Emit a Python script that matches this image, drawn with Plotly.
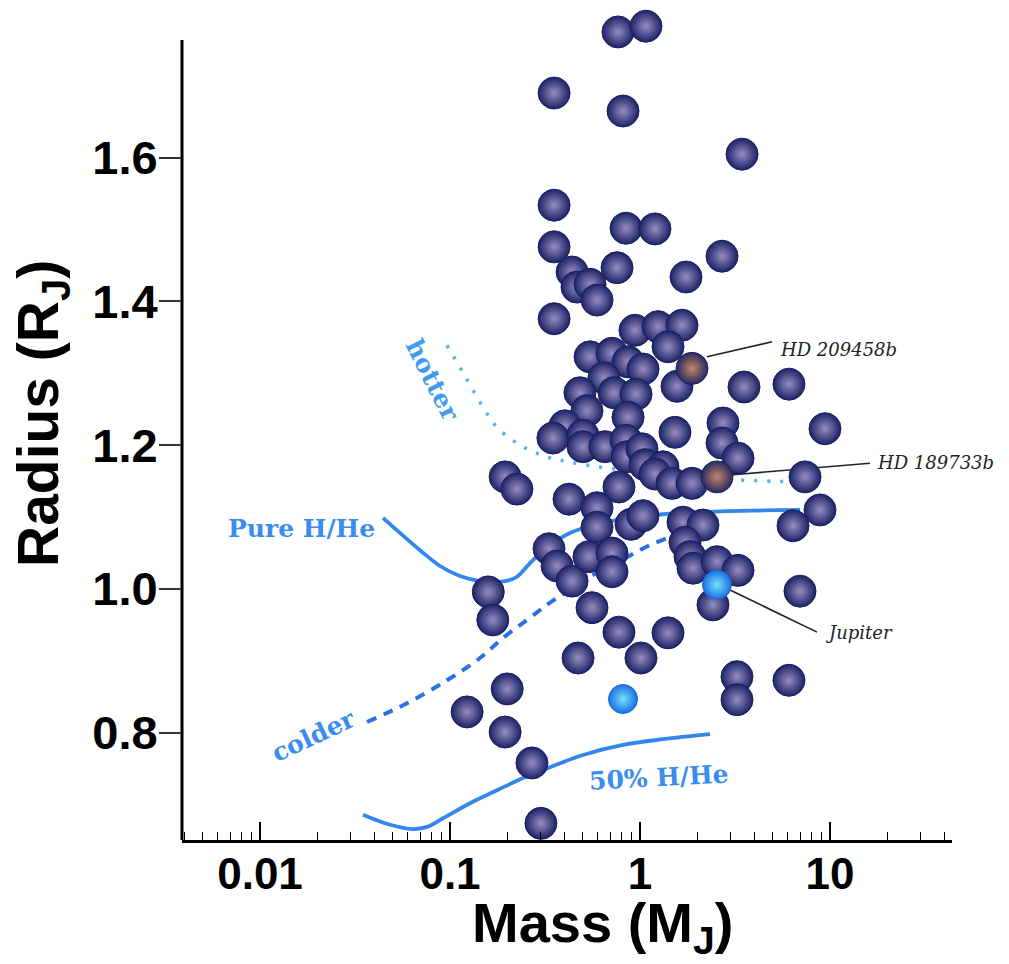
import plotly.graph_objects as go

# ---------------- data ----------------
planet_mass = [0.766, 1.075, 0.353, 0.814, 3.443, 0.353, 0.844, 1.199, 0.353, 2.702,
               1.747, 0.757, 0.439, 0.466, 0.546, 0.594, 0.353, 0.941, 1.244, 1.664,
               1.404, 1.565, 0.546, 0.712, 0.865, 1.037, 0.646, 0.483, 0.730, 0.953,
               3.527, 6.083, 0.526, 0.865, 1.528, 2.734, 9.412, 0.403, 0.348, 0.501,
               0.501, 0.654, 0.844, 0.854, 2.702, 3.280, 1.024, 1.062, 1.321, 1.199,
               1.474, 1.878, 7.387, 0.195, 0.225, 0.775, 0.423, 0.594, 0.594, 0.897,
               1.037, 1.684, 2.145, 8.859, 6.387, 1.725, 1.833, 1.901, 2.543, 3.280,
               2.422, 0.332, 0.366, 0.439, 0.539, 0.712, 0.712, 0.159, 0.168, 0.559,
               0.775, 1.404, 0.472, 1.012, 0.200, 0.123, 0.195, 0.270, 0.301, 3.240,
               3.240, 6.083, 6.952]
planet_radius = [1.775, 1.783, 1.690, 1.665, 1.605, 1.534, 1.502, 1.501, 1.476, 1.463,
                 1.434, 1.447, 1.441, 1.420, 1.424, 1.402, 1.376, 1.360, 1.365, 1.367,
                 1.337, 1.282, 1.323, 1.328, 1.316, 1.306, 1.294, 1.273, 1.273, 1.271,
                 1.281, 1.285, 1.248, 1.239, 1.218, 1.231, 1.223, 1.227, 1.210, 1.214,
                 1.198, 1.198, 1.207, 1.184, 1.203, 1.182, 1.195, 1.173, 1.170, 1.160,
                 1.147, 1.147, 1.156, 1.156, 1.139, 1.142, 1.125, 1.113, 1.086, 1.090,
                 1.102, 1.093, 1.089, 1.110, 1.088, 1.065, 1.045, 1.029, 1.038, 1.026,
                 0.978, 1.056, 1.032, 1.011, 1.045, 1.050, 1.024, 0.996, 0.957, 0.974,
                 0.940, 0.939, 0.904, 0.904, 0.861, 0.829, 0.801, 0.758, 0.674, 0.878,
                 0.846, 0.873, 0.997]

hd_names = ["HD 209458b", "HD 189733b"]
hd_mass = [1.878, 2.543]
hd_radius = [1.307, 1.156]

solar_mass = [2.543, 0.814]
solar_radius = [1.006, 0.847]

pure_mass = [0.04439, 0.05455, 0.06953, 0.08859, 0.1129, 0.1438, 0.1948, 0.2252, 0.2637,
             0.3240, 0.4281, 0.5938, 0.8859, 1.321, 2.069, 3.793, 6.952]
pure_radius = [1.099, 1.078, 1.054, 1.032, 1.018, 1.011, 1.011, 1.017, 1.036,
               1.058, 1.078, 1.090, 1.099, 1.104, 1.107, 1.109, 1.110]

hot_mass = [0.0964, 0.1171, 0.1492, 0.1768, 0.2279, 0.3049, 0.4178, 0.6785, 1.306, 2.637, 6.703]
hot_radius = [1.339, 1.301, 1.253, 1.225, 1.202, 1.186, 1.177, 1.168, 1.160, 1.153, 1.149]

cold_mass = [0.03657, 0.05939, 0.0964, 0.1438, 0.1901, 0.2542, 0.3240, 0.3934, 0.4834,
             0.6158, 0.7848, 1.129, 1.833, 2.481]
cold_radius = [0.815, 0.841, 0.873, 0.904, 0.932, 0.957, 0.978, 0.993, 1.008,
               1.025, 1.039, 1.061, 1.082, 1.093]

half_mass = [0.03484, 0.04833, 0.06386, 0.07566, 0.09187, 0.1274, 0.1768, 0.2422, 0.3360,
             0.5012, 0.814, 1.321, 2.336]
half_radius = [0.686, 0.672, 0.666, 0.669, 0.681, 0.702, 0.720, 0.737, 0.752,
               0.769, 0.783, 0.791, 0.798]

# leader lines (from marker to label)
lead_209_mass = [2.253, 4.952]
lead_209_radius = [1.323, 1.344]
lead_189_mass = [3.087, 16.24]
lead_189_radius = [1.159, 1.175]
lead_jup_mass = [2.976, 8.543]
lead_jup_radius = [0.9986, 0.940]

x_tickvals = [0.01, 0.1, 1, 10]
x_ticktext = ["0.01", "0.1", "1", "10"]
y_tickvals = [0.8, 1.0, 1.2, 1.4, 1.6]
y_ticktext = ["0.8", "1.0", "1.2", "1.4", "1.6"]

y_bottom, y_axis_top, y_view_top = 0.6508, 1.7638, 1.8125

# ---------------- figure ----------------
fig = go.Figure()

curve_blue = "#3386ec"

fig.add_trace(go.Scatter(x=hot_mass, y=hot_radius, mode="lines", line_shape="spline",
                         line=dict(color="#4cb5f2", width=3.5, dash="3px,10px"),
                         hoverinfo="skip", cliponaxis=False))
fig.add_trace(go.Scatter(x=cold_mass, y=cold_radius, mode="lines", line_shape="spline",
                         line=dict(color="#2a70e6", width=4, dash="10px,8px"),
                         hoverinfo="skip", cliponaxis=False))
fig.add_trace(go.Scatter(x=pure_mass, y=pure_radius, mode="lines", line_shape="spline",
                         line=dict(color=curve_blue, width=3.8),
                         hoverinfo="skip", cliponaxis=False))
fig.add_trace(go.Scatter(x=half_mass, y=half_radius, mode="lines", line_shape="spline",
                         line=dict(color=curve_blue, width=3.8),
                         hoverinfo="skip", cliponaxis=False))

for lm, lr in [(lead_209_mass, lead_209_radius), (lead_189_mass, lead_189_radius),
               (lead_jup_mass, lead_jup_radius)]:
    fig.add_trace(go.Scatter(x=lm, y=lr, mode="lines", line=dict(color="#222222", width=1.6),
                             hoverinfo="skip", cliponaxis=False))

fig.add_trace(go.Scatter(
    x=planet_mass, y=planet_radius, mode="markers", cliponaxis=False,
    marker=dict(size=32, color="#1b2266",
                gradient=dict(type="radial", color="#988cc0"),
                line=dict(color="#182062", width=1))))

fig.add_trace(go.Scatter(
    x=hd_mass, y=hd_radius, mode="markers", cliponaxis=False, text=hd_names,
    marker=dict(size=32, color="#262a62",
                gradient=dict(type="radial", color="#c4846a"),
                line=dict(color="#182062", width=1))))

fig.add_trace(go.Scatter(
    x=solar_mass, y=solar_radius, mode="markers", cliponaxis=False,
    marker=dict(size=29, color="#1c6fe0",
                gradient=dict(type="radial", color="#72e2ff"),
                line=dict(color="#1b66d8", width=1))))

ann_font_blue = dict(family="DejaVu Serif", size=25, color="#3a8cee", weight="bold")
ann_font_black = dict(family="DejaVu Serif", size=18, color="#222222", style="italic")
annotations = [
    dict(text="Pure H/He", x=0.1558, y=0.3888, font=ann_font_blue, textangle=0),
    dict(text="hotter", x=0.3260, y=0.575, font=dict(ann_font_blue, color="#3f9df0"), textangle=63),
    dict(text="colder", x=0.1714, y=0.13125, font=ann_font_blue, textangle=-25),
    dict(text="50% H/He", x=0.6195, y=0.07875, font=ann_font_blue, textangle=-3),
    dict(text="HD 209458b", x=0.852, y=0.61375, font=ann_font_black),
    dict(text="HD 189733b", x=0.9792, y=0.4725, font=ann_font_black),
    dict(text="Jupiter", x=0.8792, y=0.26, font=ann_font_black),
    dict(text="Mass (M<sub>J</sub>)", x=0.5455, y=-0.1085,
         font=dict(family="Liberation Sans, Arial", size=56, color="black", weight="bold")),
    dict(text="Radius (R<sub>J</sub>)", x=-0.1818, y=0.5325, textangle=-90,
         font=dict(family="Liberation Sans, Arial", size=57, color="black", weight="bold")),
]
# convert y paper positions (defined relative to the 800px axis box) to the taller plot box
for a in annotations:
    a["y"] = a["y"] * 800 / 835
    a.update(xref="paper", yref="paper", showarrow=False, xanchor="center", yanchor="middle")

fig.update_layout(
    width=1009, height=964,
    margin=dict(l=182, r=57, t=5, b=124),
    paper_bgcolor="white", plot_bgcolor="white",
    showlegend=False,
    annotations=annotations,
    shapes=[dict(type="line", xref="paper", yref="y", x0=0, x1=0,
                 y0=y_bottom, y1=y_axis_top, line=dict(color="black", width=3), layer="below")],
    xaxis=dict(type="log", range=[-2.4105, 1.6421],
               tickvals=x_tickvals, ticktext=x_ticktext,
               ticks="inside", ticklen=18, tickwidth=1.5, tickcolor="black",
               minor=dict(ticks="inside", ticklen=8, tickwidth=1.2, tickcolor="black", dtick="D1",
                          showgrid=False),
               showline=True, linecolor="black", linewidth=3,
               showgrid=False, zeroline=False, ticklabelstandoff=-7,
               tickfont=dict(family="Liberation Sans, Arial", size=44, color="black", weight="bold")),
    yaxis=dict(range=[y_bottom, y_view_top],
               tickvals=y_tickvals, ticktext=y_ticktext,
               ticks="outside", ticklen=22, tickwidth=1.5, tickcolor="#333333",
               showline=False, ticklabelstandoff=-8,
               showgrid=False, zeroline=False,
               tickfont=dict(family="Liberation Sans, Arial", size=47, color="black", weight="bold")),
)

fig.write_html("out.html")
